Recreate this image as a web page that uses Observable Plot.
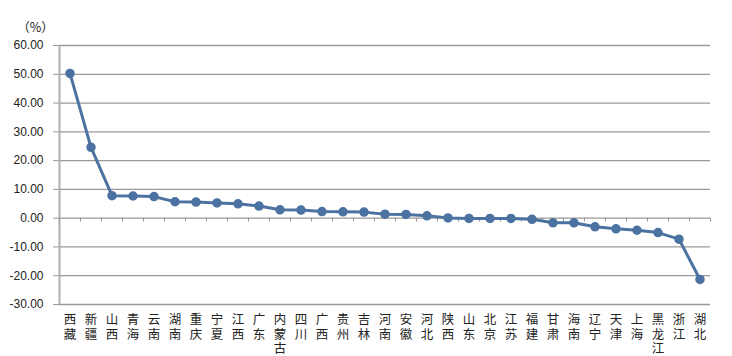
<!DOCTYPE html>
<html><head><meta charset="utf-8">
<script src="https://cdn.jsdelivr.net/npm/d3@7"></script>
<script src="https://cdn.jsdelivr.net/npm/@observablehq/plot@0.6"></script>
<style>body{margin:0;background:#fff}</style>
</head><body><div id="chart"></div>
<script>
const provinces = ["西藏","新疆","山西","青海","云南","湖南","重庆","宁夏","江西","广东","内蒙古","四川","广西","贵州","吉林","河南","安徽","河北","陕西","山东","北京","江苏","福建","甘肃","海南","辽宁","天津","上海","黑龙江","浙江","湖北"];
const growth = [50.3,24.6,7.8,7.7,7.5,5.7,5.6,5.3,5.0,4.2,2.9,2.8,2.3,2.2,2.1,1.4,1.3,0.8,0.1,-0.1,-0.1,-0.1,-0.4,-1.6,-1.6,-3.0,-3.7,-4.2,-5.0,-7.3,-21.3];
const yTicks = [-30,-20,-10,0,10,20,30,40,50,60];
const unitLabel = "（%）";

const data = provinces.map((p, i) => ({province: p, value: growth[i]}));
const W = 732, H = 356, ML = 58, MR = 22;
const bw = (W - ML - MR) / provinces.length;
const lineColor = "#4b72a1";
const cjk = "'Liberation Sans', 'Noto Sans CJK SC', sans-serif";

const chart = Plot.plot({
  width: W, height: H,
  marginLeft: ML, marginRight: MR, marginTop: 45, marginBottom: 52,
  style: {fontFamily: "'Liberation Sans', Arial, sans-serif", fontSize: "12px", color: "#222", background: "#fff"},
  x: {type: "band", domain: provinces, padding: 0},
  y: {domain: [-30, 60]},
  marks: [
    Plot.ruleY(yTicks, {stroke: "#9a9a9a", strokeWidth: 1.3}),
    Plot.ruleX([provinces[0]], {dx: -bw / 2, stroke: "#b0b0b0", strokeWidth: 2}),
    Plot.ruleX(provinces, {x: d => d, y1: 0, y2: 0, insetBottom: -4, dx: -bw / 2, stroke: "#999"}),
    Plot.ruleX([provinces[provinces.length - 1]], {x: d => d, y1: 0, y2: 0, insetBottom: -4, dx: bw / 2, stroke: "#999"}),
    Plot.axisY(yTicks, {label: null, tickSize: 5, tickPadding: 10, stroke: "#999", fill: "#222", tickFormat: d => d.toFixed(2), fontSize: 12}),
    Plot.axisX({label: null, tickSize: 0, tickPadding: 9, tickFormat: d => [...d].join("\n"), lineAnchor: "top", lineHeight: 1.18, fontSize: 12.5, fontFamily: cjk, fill: "#222"}),
    Plot.line(data, {x: "province", y: "value", stroke: lineColor, strokeWidth: 3}),
    Plot.dot(data, {x: "province", y: "value", r: 4, fill: lineColor, stroke: lineColor}),
    Plot.text([unitLabel], {frameAnchor: "top-left", textAnchor: "middle", text: d => d, dx: -23, dy: -22, fontSize: 12.5, fontFamily: "'Noto Sans CJK SC', sans-serif", fill: "#222"})
  ]
});
document.getElementById("chart").appendChild(chart);
</script>
</body></html>
